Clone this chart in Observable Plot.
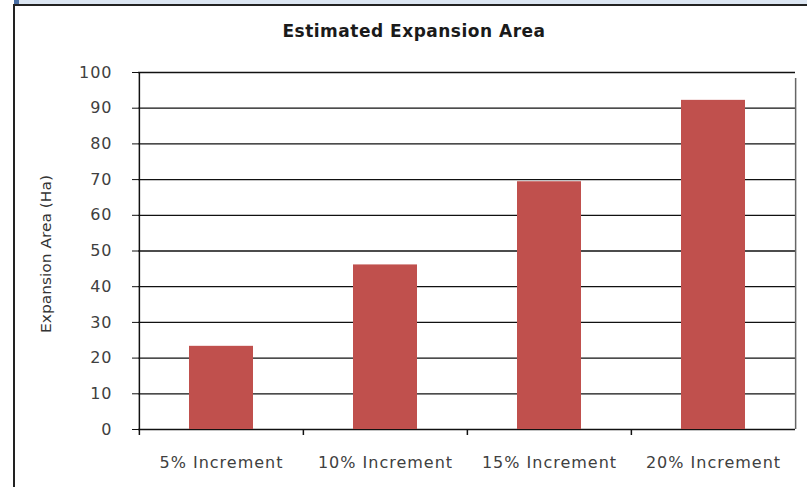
<!DOCTYPE html>
<html>
<head>
<meta charset="utf-8">
<script src="https://cdn.jsdelivr.net/npm/d3@7"></script>
<script src="https://cdn.jsdelivr.net/npm/@observablehq/plot@0.6"></script>
<style>
  html, body { margin: 0; padding: 0; background: #fff; }
  #wrap { position: relative; width: 807px; height: 487px; overflow: hidden; background: #fff; }
  #band { position: absolute; left: 14px; top: 0; width: 793px; height: 4px; background: #dce6f2; }
  #corner { position: absolute; left: 14px; top: 0; width: 5px; height: 4px; background: #4a6fa5; }
  #topline { position: absolute; left: 13px; top: 4px; width: 794px; height: 1.5px; background: #222; }
  #leftline { position: absolute; left: 13px; top: 4px; width: 2px; height: 483px; background: #222; }
  #title { position: absolute; left: 0; top: 21px; width: 828px; text-align: center;
           font: bold 17px "DejaVu Sans", sans-serif; letter-spacing: 0.5px; color: #1a1a1a; }
  #chart { position: absolute; left: 0; top: 0; }
</style>
</head>
<body>
<div id="wrap">
  <div id="band"></div>
  <div id="corner"></div>
  <div id="topline"></div>
  <div id="leftline"></div>
  <div id="chart"></div>
  <div id="title">Estimated Expansion Area</div>
</div>
<script>
const categories = ["5% Increment", "10% Increment", "15% Increment", "20% Increment"];
const values = [23.3, 46.1, 69.4, 92.2];
const yTicks = [0, 10, 20, 30, 40, 50, 60, 70, 80, 90, 100];
const yLabel = "Expansion Area (Ha)";

const data = categories.map((c, i) => ({category: c, value: values[i]}));

const W = 807, H = 487, mL = 138, mR = 12, mT = 72, mB = 58;
const step = (W - mL - mR) / categories.length;
const labelLen = 158;

const plot = Plot.plot({
  width: W,
  height: H,
  marginLeft: mL,
  marginRight: mR,
  marginTop: mT,
  marginBottom: mB,
  style: {fontFamily: "DejaVu Sans, sans-serif", fontSize: "16px", color: "#404040", letterSpacing: "1px", background: "transparent"},
  x: {domain: categories, paddingInner: 0.61, paddingOuter: 0.305},
  y: {domain: [0, 100]},
  marks: [
    Plot.ruleY(yTicks, {stroke: "#111", strokeWidth: 1.3}),
    Plot.barY(data, {x: "category", y: "value", fill: "#C0504D"}),
    Plot.ruleX(categories, {x: d => d, dx: -step / 2, y1: 0, y2: 0, insetBottom: -6, stroke: "#111", strokeWidth: 1.5}),
    Plot.ruleX(categories.slice(-1), {x: d => d, dx: step / 2, y1: 0, y2: 100, insetBottom: -6, stroke: "#666", strokeWidth: 1.5}),
    Plot.ruleX(categories.slice(0, 1), {x: d => d, dx: -step / 2, y1: 0, y2: 100, stroke: "#111", strokeWidth: 1.5}),
    Plot.axisY({ticks: yTicks, tickSize: 6, tickPadding: 20, label: null, stroke: "#111"}),
    Plot.axisX({tickSize: 0, tickPadding: 27, label: null}),
    Plot.text([yLabel], {frameAnchor: "left", text: d => d, rotate: -90, dx: -92, dy: 3, fontSize: 14,
      fontFamily: "Liberation Sans Narrow, DejaVu Sans Condensed, sans-serif", fill: "#333"})
  ]
});

// stretch the y label to its measured length in the reference, keeping it centred
d3.select(plot).selectAll("text").filter(function() { return this.textContent === yLabel; })
  .attr("textLength", labelLen).attr("lengthAdjust", "spacingAndGlyphs")
  .attr("text-anchor", "start").attr("x", -labelLen / 2)
  .style("letter-spacing", "0px");

document.getElementById("chart").appendChild(plot);
</script>
</body>
</html>
